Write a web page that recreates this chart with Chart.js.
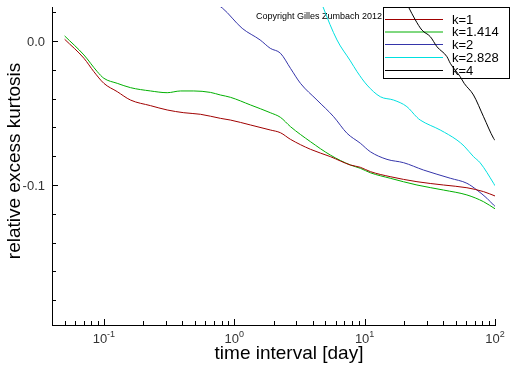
<!DOCTYPE html>
<html>
<head>
<meta charset="utf-8">
<script src="https://cdn.jsdelivr.net/npm/chart.js@4/dist/chart.umd.min.js"></script>
<style>
  html, body { margin: 0; padding: 0; background: #fff; }
  canvas { display: block; }
</style>
</head>
<body>
<canvas id="c" width="512" height="366"></canvas>
<script>
// ---- data (time interval in days, relative excess kurtosis) ----
const seriesLabels = ['k=1', 'k=1.414', 'k=2', 'k=2.828', 'k=4'];
const seriesColors = ['#a00000', '#00b000', '#3535aa', '#00e0e0', '#000000'];

const daysK1 = [0.05, 0.0703, 0.0838, 0.1, 0.1267, 0.16, 0.228, 0.306, 0.41, 0.551, 0.783, 0.935, 1.33, 1.89, 2.26, 2.70, 3.84, 5.46, 7.77, 9.27, 11.06, 15.7, 25.2, 40.3, 60.9, 81.7, 100];
const valsK1 = [0.0012, -0.012, -0.0213, -0.0294, -0.0352, -0.041, -0.0449, -0.0479, -0.0498, -0.0509, -0.0537, -0.0549, -0.0583, -0.0618, -0.0637, -0.0683, -0.0752, -0.0803, -0.0861, -0.0877, -0.0907, -0.0942, -0.0977, -0.1, -0.1019, -0.1046, -0.1076];

const daysK1414 = [0.05, 0.0703, 0.089, 0.1, 0.1267, 0.16, 0.228, 0.306, 0.387, 0.489, 0.657, 0.783, 0.935, 1.33, 1.89, 2.26, 2.70, 3.84, 5.46, 7.77, 9.27, 11.06, 15.7, 25.2, 40.3, 60.9, 81.7, 100];
const valsK1414 = [0.0035, -0.0097, -0.0213, -0.0259, -0.0294, -0.0324, -0.0347, -0.0359, -0.0347, -0.0347, -0.0357, -0.0375, -0.0391, -0.0444, -0.0498, -0.053, -0.0595, -0.0699, -0.0792, -0.0861, -0.0884, -0.0915, -0.0953, -0.1, -0.1035, -0.1069, -0.1116, -0.1165];

const daysK2 = [0.6, 0.81, 1.15, 1.58, 1.89, 2.26, 2.70, 3.22, 4.31, 5.79, 7.33, 9.27, 11.06, 14.85, 19.9, 28.3, 45.4, 60.9, 72.7, 86.7, 97.5, 100];
const valsK2 = [0.030, 0.0229, 0.0088, 0.0007, -0.0051, -0.0085, -0.019, -0.0294, -0.041, -0.0526, -0.0641, -0.071, -0.0769, -0.0822, -0.0845, -0.0896, -0.0953, -0.0988, -0.1035, -0.1092, -0.1139, -0.1148];

const daysK2828 = [4.3, 4.8, 6.14, 7.77, 8.75, 10.43, 13.19, 16.67, 21.1, 25.2, 26.7, 38.0, 51.1, 58.0, 68.4, 77.0, 97.5, 100];
const valsK2828 = [0.036, 0.0236, 0.0007, -0.0138, -0.0213, -0.0306, -0.0387, -0.041, -0.0456, -0.053, -0.0549, -0.0618, -0.0688, -0.073, -0.0803, -0.0846, -0.0988, -0.1005];

const daysK4 = [19.5, 21.7, 24.5, 27.5, 31.9, 35.9, 42.8, 45.4, 54.1, 58.0, 68.4, 81.7, 97.5, 100];
const valsK4 = [0.032, 0.0236, 0.0146, 0.0076, 0.003, -0.004, -0.0109, -0.0155, -0.0248, -0.0294, -0.0375, -0.0526, -0.0676, -0.069];

// ---- axes / tick labels ----
const xMin = 0.04, xMax = 100;
const yMin = -0.1972, yMax = 0.0236;
const xMajorTicks = [0.1, 1, 10, 100];
const xTickExponents = ['-1', '0', '1', '2'];
const yTickValues = [-0.18, -0.16, -0.14, -0.12, -0.1, -0.08, -0.06, -0.04, -0.02, 0.0, 0.02];
const yLabelValues = [0.0, -0.1];
const yLabelTexts = ['0.0', '-0.1'];
const xTitle = 'time interval [day]';
const yTitle = 'relative excess kurtosis';
const copyrightText = 'Copyright Gilles Zumbach 2012';

const FONT = '"Liberation Sans", Arial, Helvetica, sans-serif';

const allDays = [daysK1, daysK1414, daysK2, daysK2828, daysK4];
const allVals = [valsK1, valsK1414, valsK2, valsK2828, valsK4];

const datasets = seriesLabels.map((lab, i) => ({
  label: lab,
  data: allDays[i].map((d, j) => ({ x: d, y: allVals[i][j] })),
  borderColor: seriesColors[i],
  backgroundColor: seriesColors[i],
  borderWidth: 1,
  pointRadius: 0,
  cubicInterpolationMode: 'monotone',
  fill: false
}));

const decor = {
  id: 'decor',
  beforeDatasetsDraw(chart) {
    const ctx = chart.ctx;
    // legend box (curves drawn over it)
    ctx.save();
    ctx.fillStyle = '#fff';
    ctx.fillRect(383.5, 7.5, 126, 71);
    ctx.strokeStyle = '#000';
    ctx.lineWidth = 1;
    ctx.strokeRect(383.5, 7.5, 126, 71);
    const rows = [19, 31.5, 44, 57, 70];
    ctx.font = '13px ' + FONT;
    ctx.textBaseline = 'middle';
    ctx.textAlign = 'left';
    seriesLabels.forEach((lab, i) => {
      ctx.strokeStyle = seriesColors[i];
      ctx.beginPath();
      ctx.moveTo(385, rows[i] + 0.5);
      ctx.lineTo(443, rows[i] + 0.5);
      ctx.stroke();
      ctx.fillStyle = '#000';
      ctx.fillText(lab, 452, rows[i] + 1);
    });
    // copyright
    ctx.font = '9px ' + FONT;
    ctx.textBaseline = 'alphabetic';
    ctx.fillStyle = '#000';
    ctx.fillText(copyrightText, 256, 18.5);
    ctx.restore();
  },
  afterDraw(chart) {
    const ctx = chart.ctx;
    const xs = chart.scales.x, ys = chart.scales.y;
    const area = chart.chartArea;
    ctx.save();
    ctx.strokeStyle = '#000';
    ctx.lineWidth = 1;
    // x ticks (inward)
    for (let e = -2; e <= 2; e++) {
      for (let m = 1; m <= 9; m++) {
        const v = m * Math.pow(10, e);
        if (v <= xMin * 1.001 || v > xMax * 1.001) continue;
        const px = Math.round(xs.getPixelForValue(v)) + 0.5;
        const len = m === 1 ? 6 : 4;
        ctx.beginPath();
        ctx.moveTo(px, area.bottom);
        ctx.lineTo(px, area.bottom - len);
        ctx.stroke();
      }
    }
    // y ticks (inward)
    yTickValues.forEach(v => {
      const py = Math.round(ys.getPixelForValue(v)) + 0.5;
      const major = yLabelValues.some(l => Math.abs(l - v) < 1e-9);
      ctx.beginPath();
      ctx.moveTo(area.left, py);
      ctx.lineTo(area.left + (major ? 6 : 4), py);
      ctx.stroke();
    });
    // y tick labels
    ctx.fillStyle = '#333';
    ctx.font = '13px ' + FONT;
    ctx.textAlign = 'right';
    ctx.textBaseline = 'middle';
    yLabelValues.forEach((v, i) => {
      ctx.fillText(yLabelTexts[i], area.left - 7, ys.getPixelForValue(v) + 1);
    });
    // x tick labels: 10 with superscript exponent
    ctx.textAlign = 'left';
    ctx.textBaseline = 'alphabetic';
    xMajorTicks.forEach((v, i) => {
      const px = xs.getPixelForValue(v);
      ctx.font = '13px ' + FONT;
      const w1 = ctx.measureText('10').width;
      ctx.font = '9px ' + FONT;
      const w2 = ctx.measureText(xTickExponents[i]).width;
      const start = px - (w1 + w2) / 2;
      ctx.font = '13px ' + FONT;
      ctx.fillText('10', start, 343);
      ctx.font = '9px ' + FONT;
      ctx.fillText(xTickExponents[i], start + w1, 336.5);
    });
    // axis titles
    ctx.fillStyle = '#000';
    ctx.font = '19px ' + FONT;
    ctx.textAlign = 'center';
    ctx.fillText(xTitle, 289, 359);
    ctx.save();
    ctx.translate(20, 161);
    ctx.rotate(-Math.PI / 2);
    ctx.textAlign = 'center';
    ctx.textBaseline = 'alphabetic';
    ctx.fillText(yTitle, 0, 0);
    ctx.restore();
    ctx.restore();
  }
};

new Chart(document.getElementById('c').getContext('2d'), {
  type: 'line',
  data: { datasets },
  options: {
    responsive: false,
    animation: false,
    devicePixelRatio: 1,
    layout: { padding: { top: 7, right: 17, left: 0, bottom: 0 } },
    plugins: { legend: { display: false }, tooltip: { enabled: false } },
    scales: {
      x: {
        type: 'logarithmic', min: xMin, max: xMax,
        grid: { display: false },
        border: { display: true, color: '#000', width: 1 },
        ticks: { display: false },
        afterFit: s => { s.height = 41; }
      },
      y: {
        type: 'linear', min: yMin, max: yMax,
        grid: { display: false },
        border: { display: true, color: '#000', width: 1 },
        ticks: { display: false },
        afterFit: s => { s.width = 52; }
      }
    }
  },
  plugins: [decor]
});
</script>
</body>
</html>
